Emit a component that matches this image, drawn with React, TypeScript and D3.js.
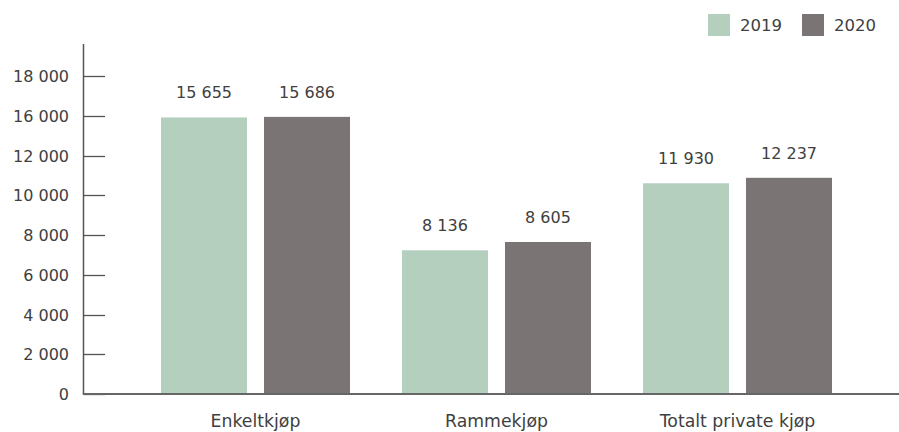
import React from "react";
import * as d3 from "d3";

const categories = ["Enkeltkjøp", "Rammekjøp", "Totalt private kjøp"];
const seriesNames = ["2019", "2020"];
const values2019 = [15655, 8136, 11930];
const values2020 = [15686, 8605, 12237];
const tickLabels = ["0", "2 000", "4 000", "6 000", "8 000", "10 000", "12 000", "16 000", "18 000"];

const colors = ["#b5cfbf", "#7a7475"];
const W = 899;
const H = 432;
const font = "'DejaVu Sans', Verdana, sans-serif";
const textColor = "#404040";

const fmt = (v: number) => d3.format(",")(v).replace(/,/g, " ");

export default function App() {
  const y = d3.scaleLinear().domain([0, 18000]).range([394, 76]);
  const x = d3.scaleBand<string>().domain(categories).range([135, 858]).padding(0);
  const inner = d3
    .scaleBand<string>()
    .domain(seriesNames)
    .range([26, x.bandwidth() - 26])
    .paddingInner(0.165)
    .paddingOuter(0);
  const series = [values2019, values2020];
  const tickStep = 18000 / (tickLabels.length - 1);
  const axisX = 83.5;

  return (
    <svg width={W} height={H} style={{ position: "absolute", left: 0, top: 0 }} fontFamily={font}>
      <rect width={W} height={H} fill="#fff" />
      {/* legend */}
      {seriesNames.map((s, i) => (
        <g key={s} transform={`translate(${708 + i * 94},14)`}>
          <rect width={22} height={22} fill={colors[i]} />
          <text x={32} y={17} fontSize={16.5} fill={textColor}>{s}</text>
        </g>
      ))}
      {/* y axis */}
      <line x1={axisX} x2={axisX} y1={44} y2={394} stroke="#555" strokeWidth={1.5} />
      {tickLabels.map((t, i) => {
        const ty = Math.round(y(i * tickStep)) + 0.5;
        return (
          <g key={t}>
            <line x1={axisX} x2={105} y1={ty} y2={ty} stroke="#555" strokeWidth={1.3} />
            <text x={69} y={ty} dy="0.36em" textAnchor="end" fontSize={16} fill={textColor}>{t}</text>
          </g>
        );
      })}
      {/* bars */}
      {categories.map((c, ci) => (
        <g key={c} transform={`translate(${x(c)},0)`}>
          {seriesNames.map((s, si) => {
            const v = series[si][ci];
            const bx = inner(s)!;
            return (
              <g key={s}>
                <rect x={bx} y={y(v)} width={inner.bandwidth()} height={394 - y(v)} fill={colors[si]} />
                <text
                  x={bx + inner.bandwidth() / 2}
                  y={y(v) - 25}
                  dy="0.36em"
                  textAnchor="middle"
                  fontSize={16}
                  fill={textColor}
                >
                  {fmt(v)}
                </text>
              </g>
            );
          })}
          <text x={x.bandwidth() / 2} y={427} textAnchor="middle" fontSize={17.3} fill={textColor}>{c}</text>
        </g>
      ))}
      {/* baseline */}
      <line x1={axisX - 0.75} x2={W} y1={394} y2={394} stroke="#666" strokeWidth={2} />
    </svg>
  );
}
